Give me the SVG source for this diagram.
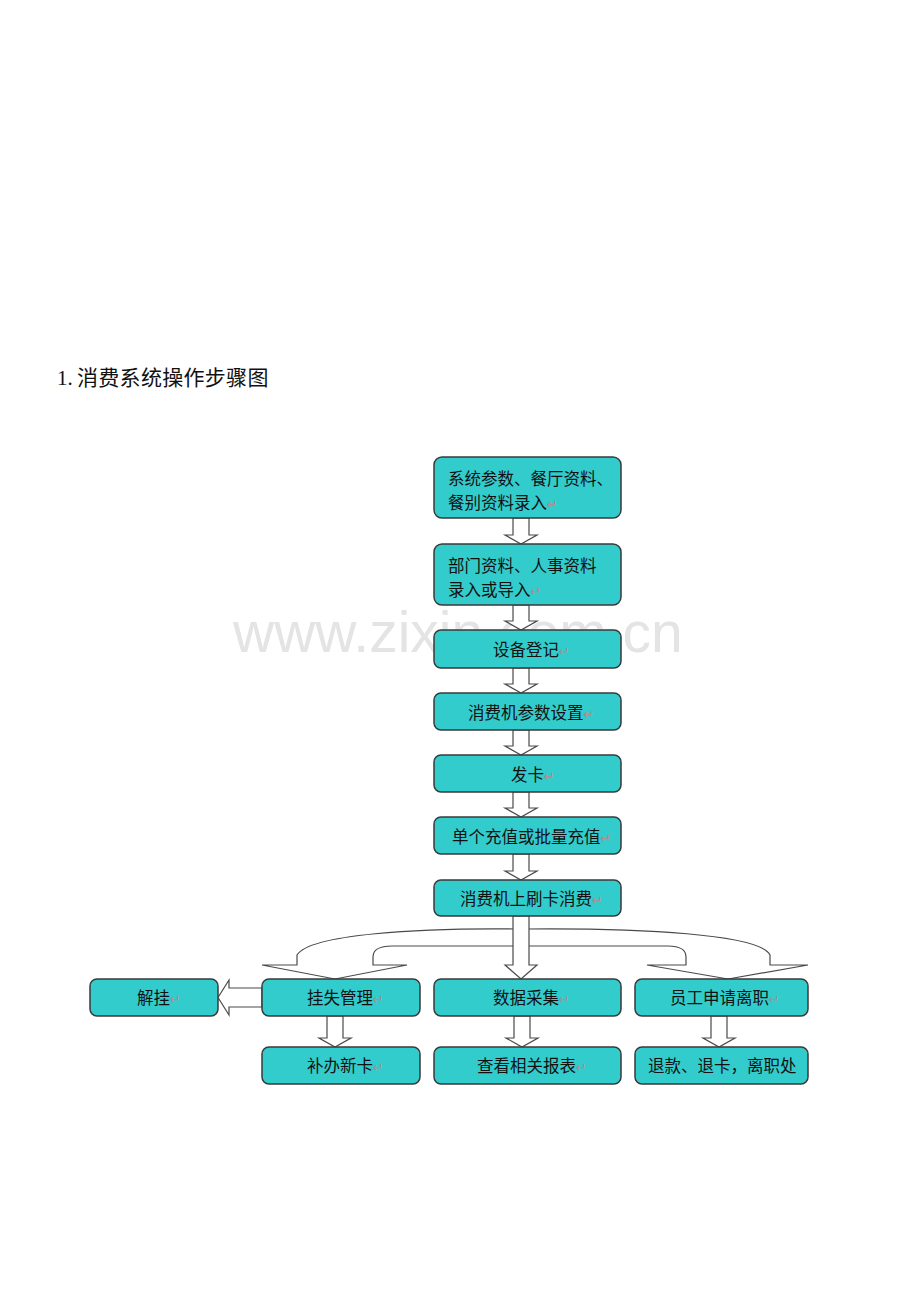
<svg xmlns="http://www.w3.org/2000/svg" width="920" height="1302" viewBox="0 0 920 1302">
<style>
.box{fill:#33CCCC;stroke:#3a3a3a;stroke-width:1.5}
.t{font-family:"Noto Sans CJK SC","Noto Sans",sans-serif;font-size:16.5px;fill:#111}
.rm{font-family:"DejaVu Sans",sans-serif;font-size:13px;fill:#b88a8a}
.arr{fill:#fff;stroke:#4a4a4a;stroke-width:1.2;stroke-linejoin:miter}
</style>
<rect width="920" height="1302" fill="#fff"/>
<text x="57" y="385" font-family="Liberation Serif,'Noto Sans CJK SC',serif" font-size="21" fill="#111">1.<tspan x="77" letter-spacing="0.3">消费系统操作步骤图</tspan></text>
<text x="233" y="652" font-family="Liberation Sans,Arial,sans-serif" font-size="57" fill="#e4e4e4">www.zixin.com.cn</text>
<g id="connectors">
<path class="arr" d="M513 518 L513 535 L505 535 L521 544 L537 535 L529 535 L529 518 Z"/>
<path class="arr" d="M513 605 L513 621 L505 621 L521 630 L537 621 L529 621 L529 605 Z"/>
<path class="arr" d="M513 668 L513 684 L505 684 L521 693 L537 684 L529 684 L529 668 Z"/>
<path class="arr" d="M513 730 L513 746 L505 746 L521 755 L537 746 L529 746 L529 730 Z"/>
<path class="arr" d="M513 792 L513 808 L505 808 L521 817 L537 808 L529 808 L529 792 Z"/>
<path class="arr" d="M513 854 L513 871 L505 871 L521 880 L537 871 L529 871 L529 854 Z"/>
<path class="arr" d="M515 929 C420 928 310 934 297 955 L297 965 L262 965 L335 979 L407 965 L373 965 L373 957 C373 949 380 946 392 946 L515 946 Z"/>
<path class="arr" d="M525 929 C640 928 760 934 770 955 L770 965 L808 965 L728 979 L647 965 L686 965 L686 957 C686 949 680 946 668 946 L525 946 Z"/>
<path class="arr" d="M513 916 L513 965 L505 965 L521 979 L537 965 L529 965 L529 916 Z"/>
<path class="arr" d="M262 988 L229 988 L229 980 L218 997.5 L229 1015 L229 1007 L262 1007 Z"/>
<path class="arr" d="M327 1016 L327 1038 L319 1038 L335 1047 L351 1038 L343 1038 L343 1016 Z"/>
<path class="arr" d="M514 1016 L514 1038 L506 1038 L522 1047 L538 1038 L530 1038 L530 1016 Z"/>
<path class="arr" d="M711 1016 L711 1038 L703 1038 L719 1047 L735 1038 L727 1038 L727 1016 Z"/>
</g>
<g id="n1"><rect class="box" x="434" y="457" width="187" height="61" rx="8"/>
<text class="t" x="448" y="485">系统参数、餐厅资料、</text>
<text class="t" x="448" y="509">餐别资料录入<tspan class="rm">↵</tspan></text></g>
<g id="n2"><rect class="box" x="434" y="544" width="187" height="61" rx="8"/>
<text class="t" x="448" y="572">部门资料、人事资料</text>
<text class="t" x="448" y="596">录入或导入<tspan class="rm">↵</tspan></text></g>
<g id="n3"><rect class="box" x="434" y="630" width="187" height="38" rx="7"/>
<text class="t" x="493" y="656">设备登记<tspan class="rm">↵</tspan></text></g>
<g id="n4"><rect class="box" x="434" y="693" width="187" height="37" rx="7"/>
<text class="t" x="468" y="719">消费机参数设置<tspan class="rm">↵</tspan></text></g>
<g id="n5"><rect class="box" x="434" y="755" width="187" height="37" rx="7"/>
<text class="t" x="511" y="781">发卡<tspan class="rm">↵</tspan></text></g>
<g id="n6"><rect class="box" x="434" y="817" width="187" height="37" rx="7"/>
<text class="t" x="452" y="843">单个充值或批量充值<tspan class="rm">↵</tspan></text></g>
<g id="n7"><rect class="box" x="434" y="880" width="187" height="36" rx="7"/>
<text class="t" x="460" y="905">消费机上刷卡消费<tspan class="rm">↵</tspan></text></g>
<g id="n8"><rect class="box" x="262" y="979" width="158" height="37" rx="7"/>
<text class="t" x="307" y="1004">挂失管理<tspan class="rm">↵</tspan></text></g>
<g id="n9"><rect class="box" x="434" y="979" width="187" height="37" rx="7"/>
<text class="t" x="493" y="1004">数据采集<tspan class="rm">↵</tspan></text></g>
<g id="n10"><rect class="box" x="635" y="979" width="173" height="37" rx="7"/>
<text class="t" x="670" y="1004">员工申请离职<tspan class="rm">↵</tspan></text></g>
<g id="n11"><rect class="box" x="90" y="979" width="128" height="37" rx="7"/>
<text class="t" x="137" y="1004">解挂<tspan class="rm">↵</tspan></text></g>
<g id="n12"><rect class="box" x="262" y="1047" width="158" height="37" rx="7"/>
<text class="t" x="307" y="1072">补办新卡<tspan class="rm">↵</tspan></text></g>
<g id="n13"><rect class="box" x="434" y="1047" width="187" height="37" rx="7"/>
<text class="t" x="477" y="1072">查看相关报表<tspan class="rm">↵</tspan></text></g>
<g id="n14"><rect class="box" x="635" y="1047" width="173" height="37" rx="7"/>
<text class="t" x="648" y="1072">退款、退卡，离职处</text></g>
</svg>
